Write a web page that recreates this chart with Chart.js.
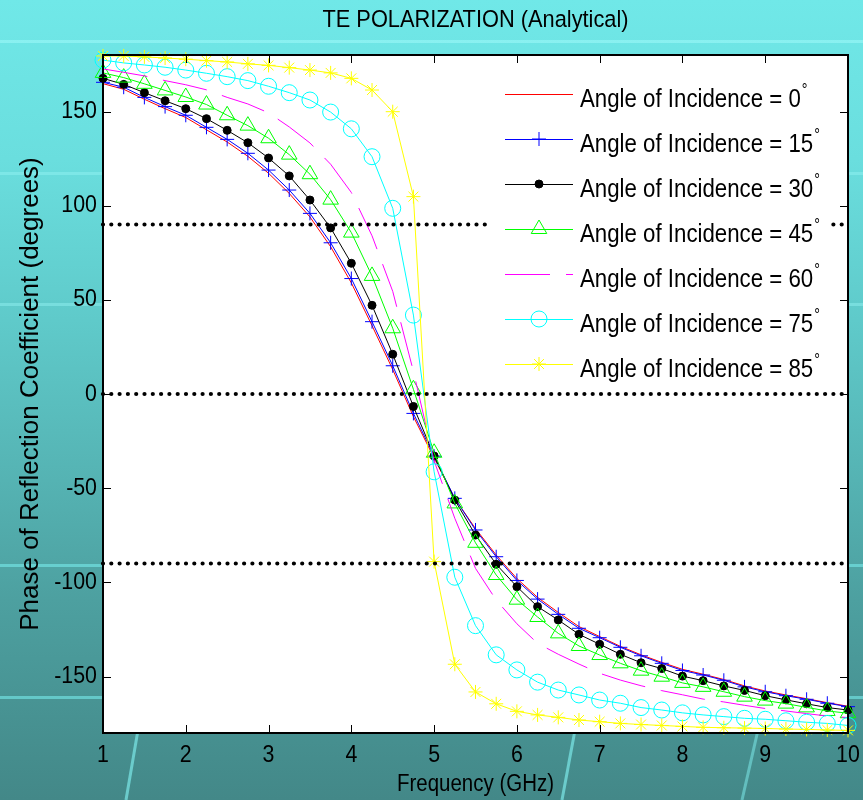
<!DOCTYPE html>
<html><head><meta charset="utf-8">
<script src="https://cdn.jsdelivr.net/npm/chart.js@4.4.1/dist/chart.umd.min.js"></script>
<style>
html,body{margin:0;padding:0;}
#wrap{position:relative;width:863px;height:800px;overflow:hidden;
 background:linear-gradient(180deg,#70e8e8 0%,#6adede 20%,#5fcaca 40%,#55b3b3 60%,#4da0a0 75%,#438888 100%);}
.band{position:absolute;left:0;width:863px;height:3px;}
#deco{position:absolute;left:0;top:0;}
canvas{position:absolute;left:0;top:0;}
</style></head><body>
<div id="wrap">
 <div class="band" style="top:40px;background:rgba(160,250,250,0.55)"></div>
 <div class="band" style="top:172px;background:rgba(150,245,245,0.45)"></div>
 <div class="band" style="top:303px;background:rgba(150,245,245,0.45)"></div>
 <div class="band" style="top:564px;background:rgba(120,235,235,0.6)"></div>
 <div class="band" style="top:696px;background:rgba(120,235,235,0.6)"></div>
 <svg id="deco" width="863" height="800">
  <line x1="138" y1="730" x2="126" y2="800" stroke="rgba(120,225,225,0.75)" stroke-width="3"/>
  <line x1="575" y1="730" x2="562" y2="800" stroke="rgba(120,225,225,0.75)" stroke-width="3"/>
  <line x1="758" y1="730" x2="742" y2="800" stroke="rgba(120,225,225,0.6)" stroke-width="3"/>
 </svg>
 <canvas id="c" width="863" height="800"></canvas>
</div>
<script>
// ---------- data ----------
const freqGHz = [1,1.25,1.5,1.75,2,2.25,2.5,2.75,3,3.25,3.5,3.75,4,4.25,4.5,4.75,5,5.25,5.5,5.75,6,6.25,6.5,6.75,7,7.25,7.5,7.75,8,8.25,8.5,8.75,9,9.25,9.5,9.75,10];

const phase0  = [164.8,161.8,156.5,151.5,146.8,140.3,133.8,126.2,117.2,106.5,94,78.2,59,36.3,13,-12,-34,-55.5,-71.5,-85.5,-98,-108,-116,-123.5,-128.8,-134,-138.5,-142.5,-146.2,-148.8,-151.6,-155,-157.7,-159.8,-161.8,-163.9,-165.8];
const phase15 = [165.5,162.9,157.5,152.6,148,141.6,135.2,127.8,118.9,108.3,95.9,80.3,61.3,38.4,15,-10.3,-33,-55.4,-72.2,-86.4,-99,-108.9,-117,-124.4,-129.4,-134.5,-139,-143,-146.8,-149.2,-152,-155.5,-158.1,-160.2,-162.1,-164.2,-166];
const phase30 = [167.6,164.4,160,155.7,151.5,146.2,140,133.4,125.3,115.8,103,88.2,69.4,47.1,21.1,-6.6,-32.9,-56.3,-74.9,-90.4,-102.3,-112.9,-120,-127.6,-132.9,-138.2,-142.7,-145.8,-149.8,-152.2,-155,-157.4,-160.2,-162.4,-164.5,-166.5,-167.8];
const phase45 = [170.5,168,164.7,161.2,157.7,153.7,148,142.5,135.8,127.1,116.7,103.2,85.7,62.7,34.9,2.5,-31.2,-58.1,-79,-96.1,-109.2,-118.4,-127.1,-133.8,-138.6,-143,-146.9,-150.1,-153.4,-155.5,-158.1,-160.7,-162.8,-164.4,-166.4,-168.3,-169.5];
const phase60 = [172.6,170.8,168.9,166.4,164.2,161.5,157.5,154,149.3,141.8,133.3,122,107,84,54.5,12,-35.5,-66,-92.6,-109.4,-122,-132.4,-138.2,-143.4,-148.3,-151.9,-154.9,-157.5,-159.7,-162,-163.5,-165.3,-167,-168.3,-169.7,-171,-171.8];
const phase75 = [177.3,175.8,174.7,173.5,172,170.3,168.5,166.4,163.4,160,156.1,149.7,140.8,126,98.6,41.9,-41.3,-97.3,-123,-138.5,-146.5,-153,-157.2,-159.8,-162.5,-164.2,-166.5,-167.8,-169.3,-170.4,-171.3,-172.2,-172.7,-173.5,-174.3,-174.9,-176];
const phase85 = [179.5,179.5,179,178.4,177.8,177,176.3,175.3,174.5,173.3,172,170.5,167.6,161.4,149.9,104.8,-89,-143.5,-158.2,-164.5,-168.5,-170.4,-171.7,-173.1,-174,-174.9,-175.5,-176,-176.5,-177,-177.2,-177.4,-177.6,-177.9,-178.1,-178.4,-178.6];

const seriesLabels = ['Angle of Incidence = 0°','Angle of Incidence = 15°','Angle of Incidence = 30°','Angle of Incidence = 45°','Angle of Incidence = 60°','Angle of Incidence = 75°','Angle of Incidence = 85°'];
const seriesValues = [phase0, phase15, phase30, phase45, phase60, phase75, phase85];

const referenceLevels = [90, 0, -90];
const xTickValues = [1,2,3,4,5,6,7,8,9,10];
const yTickValues = [-150,-100,-50,0,50,100,150];

const chartTitle = 'TE POLARIZATION (Analytical)';
const xAxisTitle = 'Frequency (GHz)';
const yAxisTitle = 'Phase of Reflection Coefficient (degrees)';

// ---------- styles ----------
const FONT = "'Liberation Sans', Arial, Helvetica, sans-serif";
const HS = 0.89; // horizontal squeeze of upright text, as in the reference
const origFillText = CanvasRenderingContext2D.prototype.fillText;
CanvasRenderingContext2D.prototype.fillText = function (text, x, y, maxWidth) {
  const m = this.getTransform();
  if (Math.abs(m.b) < 1e-6 && Math.abs(m.c) < 1e-6) {
    this.save();
    this.translate(x, y);
    this.scale(HS, 1);
    if (maxWidth === undefined) origFillText.call(this, text, 0, 0);
    else origFillText.call(this, text, 0, 0, maxWidth / HS);
    this.restore();
  } else {
    if (maxWidth === undefined) origFillText.call(this, text, x, y);
    else origFillText.call(this, text, x, y, maxWidth);
  }
};

const seriesColors = ['#ff0000','#0000ff','#000000','#00ff00','#ff00ff','#00ffff','#ffff00'];
const seriesStyles = [
  {pointStyle:'circle', radius:0, fill:'rgba(0,0,0,0)', dash:[]},
  {pointStyle:'cross', radius:7, fill:'rgba(0,0,0,0)', dash:[]},
  {pointStyle:'circle', radius:4, fill:'#000000', dash:[]},
  {pointStyle:'triangle', radius:9, fill:'rgba(0,0,0,0)', dash:[]},
  {pointStyle:'circle', radius:0, fill:'rgba(0,0,0,0)', dash:[45,16]},
  {pointStyle:'circle', radius:8, fill:'rgba(0,0,0,0)', dash:[]},
  {pointStyle:'star', radius:7, fill:'rgba(0,0,0,0)', dash:[]}
];

const datasets = seriesValues.map((vals, i) => ({
  label: seriesLabels[i],
  data: freqGHz.map((f, j) => ({x: f, y: vals[j]})),
  borderColor: seriesColors[i],
  backgroundColor: seriesStyles[i].fill,
  borderWidth: 1,
  borderDash: seriesStyles[i].dash,
  pointStyle: seriesStyles[i].pointStyle,
  pointRadius: seriesStyles[i].radius,
  pointBorderColor: seriesColors[i],
  pointBackgroundColor: seriesStyles[i].fill,
  pointBorderWidth: 1,
  tension: 0,
  fill: false,
  clip: false,
  order: 20 - i,
  isSeries: true
}));
referenceLevels.forEach(level => {
  datasets.push({
    label: 'ref ' + level,
    data: [{x: freqGHz[0], y: level}, {x: freqGHz[freqGHz.length - 1], y: level}],
    borderColor: '#000000',
    borderWidth: 4.2,
    borderDash: [0, 8.3],
    borderCapStyle: 'round',
    pointRadius: 0,
    tension: 0,
    fill: false,
    clip: false,
    order: 0,
    isSeries: false
  });
});

// ---------- plugins ----------
const plotBg = {
  id: 'plotBg',
  beforeDraw(chart) {
    const {ctx, chartArea: a} = chart;
    ctx.save();
    ctx.fillStyle = '#ffffff';
    ctx.fillRect(a.left, a.top, a.right - a.left, a.bottom - a.top);
    ctx.restore();
  }
};

const frameTicks = {
  id: 'frameTicks',
  afterDatasetsDraw(chart) {
    const {ctx, chartArea: a, scales: {x, y}} = chart;
    ctx.save();
    ctx.strokeStyle = '#000';
    ctx.lineWidth = 1;
    ctx.beginPath();
    const tl = 8;
    x.ticks.forEach(t => {
      const px = Math.round(x.getPixelForValue(t.value)) + 0.5;
      ctx.moveTo(px, a.bottom); ctx.lineTo(px, a.bottom - tl);
      ctx.moveTo(px, a.top); ctx.lineTo(px, a.top + tl);
    });
    y.ticks.forEach(t => {
      const py = Math.round(y.getPixelForValue(t.value)) + 0.5;
      ctx.moveTo(a.left, py); ctx.lineTo(a.left + tl, py);
      ctx.moveTo(a.right, py); ctx.lineTo(a.right - tl, py);
    });
    ctx.stroke();
    ctx.lineWidth = 2;
    ctx.strokeRect(Math.round(a.left), Math.round(a.top), Math.round(a.right - a.left), Math.round(a.bottom - a.top));
    ctx.restore();
  }
};

const insideLegend = {
  id: 'insideLegend',
  afterDraw(chart) {
    const {ctx, chartArea: a} = chart;
    const boxL = a.right - 361, boxT = a.top + 17, boxW = 343, boxH = 314;
    ctx.save();
    ctx.fillStyle = '#ffffff';
    ctx.fillRect(boxL, boxT, boxW, boxH);
    const sets = chart.data.datasets.filter(d => d.isSeries);
    sets.forEach((ds, i) => {
      const rowY = boxT + 22 + i * 45;
      const x0 = boxL + 18, x1 = boxL + 86, xm = (x0 + x1) / 2;
      ctx.strokeStyle = ds.borderColor;
      ctx.lineWidth = 1;
      ctx.setLineDash(ds.borderDash || []);
      ctx.beginPath(); ctx.moveTo(x0, rowY + 0.5); ctx.lineTo(x1, rowY + 0.5); ctx.stroke();
      ctx.setLineDash([]);
      if (ds.pointRadius > 0) {
        ctx.fillStyle = ds.pointBackgroundColor;
        ctx.strokeStyle = ds.pointBorderColor;
        Chart.helpers.drawPoint(ctx, {pointStyle: ds.pointStyle, radius: ds.pointRadius, borderWidth: 1, rotation: 0}, xm, rowY);
      }
      const label = ds.label;
      const main = label.slice(0, -1), deg = label.slice(-1);
      ctx.fillStyle = '#000';
      ctx.font = '25px ' + FONT;
      ctx.textBaseline = 'alphabetic';
      ctx.textAlign = 'left';
      const tx = boxL + 93;
      ctx.fillText(main, tx, rowY + 12.5);
      const w = ctx.measureText(main).width * HS;
      ctx.font = '16px ' + FONT;
      ctx.fillText(deg, tx + w + 1, rowY + 1);
    });
    ctx.restore();
  }
};

new Chart(document.getElementById('c'), {
  type: 'line',
  data: {datasets},
  options: {
    responsive: false,
    animation: false,
    devicePixelRatio: 1,
    layout: {padding: {left: 0, right: 15, top: 0, bottom: 0}},
    plugins: {
      legend: {display: false},
      tooltip: {enabled: false},
      title: {
        display: true, text: chartTitle, fullSize: false, color: '#000',
        font: {family: FONT, size: 24.5, weight: 'normal'},
        padding: {top: 6, bottom: 19.6}
      }
    },
    scales: {
      x: {
        type: 'linear', min: 1, max: 10,
        afterBuildTicks: s => { s.ticks = xTickValues.map(v => ({value: v})); },
        afterFit: s => { s.height = 67; s.paddingLeft = 0; s.paddingRight = 0; },
        grid: {display: false, drawTicks: false}, border: {display: false},
        ticks: {color: '#000', font: {family: FONT, size: 24}, padding: 8, maxRotation: 0, autoSkip: false},
        title: {display: true, text: xAxisTitle, color: '#000', font: {family: FONT, size: 23}, padding: {top: 0, bottom: 2}}
      },
      y: {
        type: 'linear', min: -180, max: 180,
        afterBuildTicks: s => { s.ticks = yTickValues.map(v => ({value: v})); },
        afterFit: s => { s.width = 103; s.paddingTop = 0; s.paddingBottom = 0; },
        grid: {display: false, drawTicks: false}, border: {display: false},
        ticks: {color: '#000', font: {family: FONT, size: 24}, padding: 6, autoSkip: false},
        title: {display: true, text: yAxisTitle, color: '#000', font: {family: FONT, size: 26}, padding: {top: 15, bottom: 0}}
      }
    }
  },
  plugins: [plotBg, frameTicks, insideLegend]
});
</script>
</body></html>
